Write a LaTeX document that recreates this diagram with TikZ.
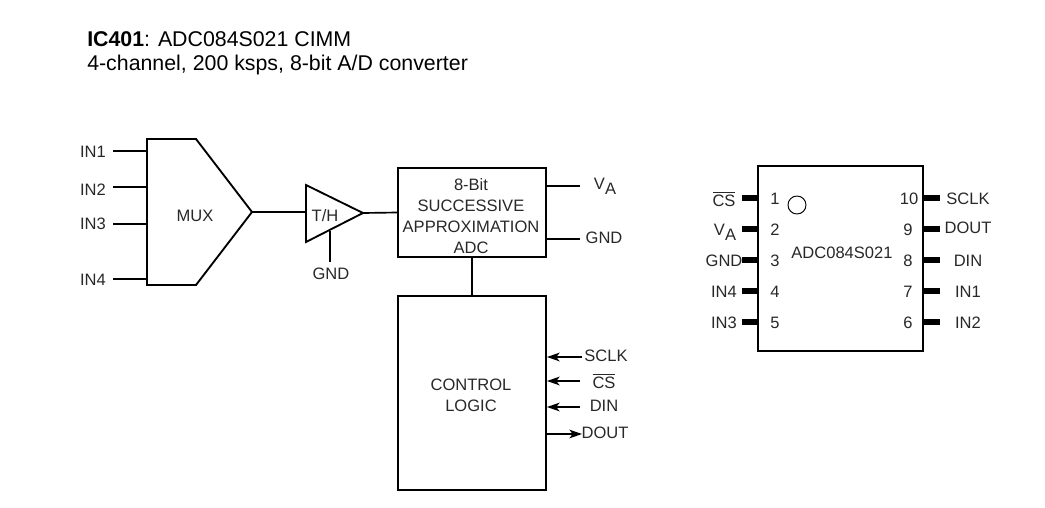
\documentclass[tikz,border=0pt]{standalone}
\usepackage{fontspec}
\setmainfont{Liberation Sans}
\usetikzlibrary{arrows.meta, positioning, calc}
\definecolor{icink}{RGB}{40,40,40}

\begin{document}
\begin{tikzpicture}[x=0.75pt, y=-0.75pt,
  txt/.style={inner sep=0pt, text=icink, font=\fontsize{12.4pt}{15.75pt}\selectfont, align=center},
  block/.style={rectangle, draw=black, line width=1.4pt, minimum width=111pt, inner sep=0pt},
  wire/.style={draw=black, line width=1.25pt},
  arr/.style={wire, -{Stealth[length=9.5pt, width=6.5pt, inset=2.5pt]}},
  pinline/.style={draw=black, line width=3.8pt}
]
\useasboundingbox (0,0) rectangle (1045,507);
\node[txt, text=black, anchor=north west, align=left, font=\fontsize{16pt}{18pt}\selectfont] (title) at (87,31) {\textbf{IC401}: ADC084S021 CIMM\\4-channel, 200 ksps, 8-bit A/D converter};

% multiplexer
\coordinate (muxnw) at (147,139);
\coordinate (muxne) at (196,139);
\coordinate (muxtip) at (252,212);
\coordinate (muxse) at (196,285);
\coordinate (muxsw) at (147,285);
\draw[wire, line width=1.4pt] (muxnw) -- (muxne) -- (muxtip) -- (muxse) -- (muxsw) -- cycle;
\node[txt] (mux) at (195,216) {MUX};
\coordinate (in1end) at (113,151);
\coordinate (in2end) at (113,187);
\coordinate (in3end) at (113,224);
\coordinate (in4end) at (113,279);
\node[txt] (in1) at (93,152) {IN1};
\node[txt] (in2) at (93,190) {IN2};
\node[txt] (in3) at (93,224) {IN3};
\node[txt] (in4) at (93,280) {IN4};
\draw[wire] (in1end) -- (in1end -| muxnw);
\draw[wire] (in2end) -- (in2end -| muxnw);
\draw[wire] (in3end) -- (in3end -| muxnw);
\draw[wire] (in4end) -- (in4end -| muxnw);

% track and hold
\coordinate (thn) at (306,185);
\coordinate (ths) at (306,242);
\coordinate (thtip) at (363,213);
\coordinate (thgnd) at (330,231);
\coordinate (thgndend) at (330,262);
\draw[wire, line width=1.4pt] (thn) -- (thtip) -- (ths) -- cycle;
\node[txt] (th) at (325,216) {T/H};
\node[txt] (thgndlabel) at (331,274) {GND};
\draw[wire] (thgnd) -- (thgndend);
\draw[wire] (muxtip) -- (muxtip -| thn);

% converter and control
\node[block, minimum height=66.5pt] (adc) at (472,212.5) {};
\node[txt] (adctext) at (471,216) {8-Bit\\SUCCESSIVE\\APPROXIMATION\\ADC};
\node[block, minimum height=145.5pt] (logic) at (472,393) {};
\node[txt] (logictext) at (471,395) {CONTROL\\LOGIC};
\draw[wire] (thtip) -- (adc.west);
\draw[wire] (adc.south) -- (logic.north);

\coordinate (vaend) at (580,186);
\coordinate (gndend) at (580,239);
\node[txt] (va) at (605,186) {V\raisebox{-3.5pt}{A}};
\node[txt] (gnd) at (604,238) {GND};
\draw[wire] (adc.east |- vaend) -- (vaend);
\draw[wire] (adc.east |- gndend) -- (gndend);

\coordinate (sclkend) at (582,357);
\coordinate (csend) at (580,381);
\coordinate (dinend) at (580,407);
\coordinate (doutend) at (582,434);
\node[txt] (sclk) at (606,356) {SCLK};
\node[txt] (cs) at (604,381) {$\overline{\mbox{CS}}$};
\node[txt] (din) at (604,406) {DIN};
\node[txt] (dout) at (605,433) {DOUT};
\draw[arr] (sclkend) -- (sclkend -| logic.east);
\draw[arr] (csend) -- (csend -| logic.east);
\draw[arr] (dinend) -- (dinend -| logic.east);
\draw[arr] (doutend -| logic.east) -- (doutend);

% package
\node[block, minimum width=123.5pt, minimum height=138.5pt] (pkg) at (840.5,258.5) {};
\node[circle, draw=black, line width=0.7pt, minimum size=13.5pt, inner sep=0pt] (dot) at (797,205) {};
\node[txt] (pkgname) at (842,253) {ADC084S021};

\coordinate (pl1) at (742,198);
\coordinate (pl2) at (742,229);
\coordinate (pl3) at (742,260);
\coordinate (pl4) at (742,291);
\coordinate (pl5) at (742,322);
\coordinate (pr10) at (940,198);
\coordinate (pr9) at (940,229);
\coordinate (pr8) at (940,260);
\coordinate (pr7) at (940,291);
\coordinate (pr6) at (940,322);
\draw[pinline] (pl1) -- (pl1 -| pkg.west);
\draw[pinline] (pl2) -- (pl2 -| pkg.west);
\draw[pinline] (pl3) -- (pl3 -| pkg.west);
\draw[pinline] (pl4) -- (pl4 -| pkg.west);
\draw[pinline] (pl5) -- (pl5 -| pkg.west);
\draw[pinline] (pr10) -- (pr10 -| pkg.east);
\draw[pinline] (pr9) -- (pr9 -| pkg.east);
\draw[pinline] (pr8) -- (pr8 -| pkg.east);
\draw[pinline] (pr7) -- (pr7 -| pkg.east);
\draw[pinline] (pr6) -- (pr6 -| pkg.east);

\node[txt] (n1) at (775,199) {1};
\node[txt] (n2) at (775,230) {2};
\node[txt] (n3) at (775,261) {3};
\node[txt] (n4) at (775,292) {4};
\node[txt] (n5) at (775,323) {5};
\node[txt] (n10) at (909,199) {10};
\node[txt] (n9) at (908,230) {9};
\node[txt] (n8) at (908,261) {8};
\node[txt] (n7) at (908,292) {7};
\node[txt] (n6) at (908,323) {6};

\node[txt] (lcs) at (724,199) {$\overline{\mbox{CS}}$};
\node[txt] (lva) at (725,232) {V\raisebox{-3.5pt}{A}};
\node[txt] (lgnd) at (724,261) {GND};
\node[txt] (lin4) at (724,292) {IN4};
\node[txt] (lin3) at (724,323) {IN3};
\node[txt] (rsclk) at (968,199) {SCLK};
\node[txt] (rdout) at (968,228) {DOUT};
\node[txt] (rdin) at (968,261) {DIN};
\node[txt] (rin1) at (968,292) {IN1};
\node[txt] (rin2) at (968,323) {IN2};
\end{tikzpicture}
\end{document}
